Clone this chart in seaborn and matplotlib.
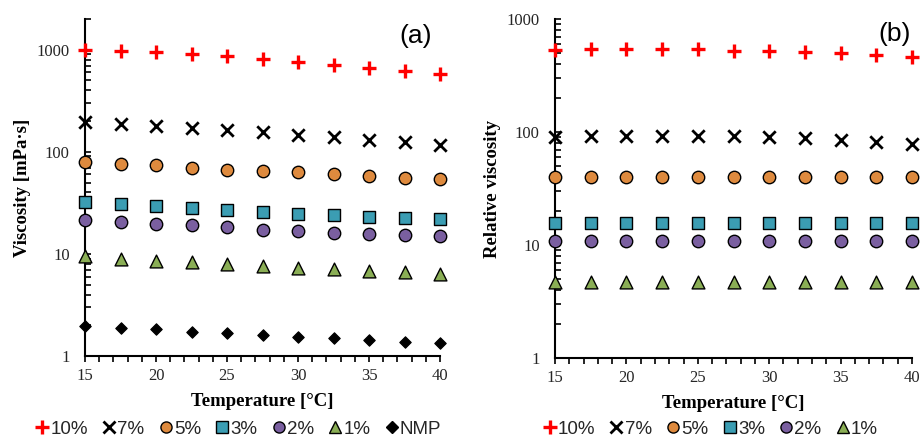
import numpy as np
import pandas as pd
import matplotlib
matplotlib.use("Agg")
import matplotlib.pyplot as plt
from matplotlib.lines import Line2D
from matplotlib.ticker import LogLocator, MultipleLocator, FixedLocator, NullFormatter, FuncFormatter
import seaborn as sns

# ---------------- data ----------------
temperature = [15, 17.5, 20, 22.5, 25, 27.5, 30, 32.5, 35, 37.5, 40]

series_a = ["10%", "7%", "5%", "3%", "2%", "1%", "NMP"]
visc_10 = [1000, 980, 945, 910, 860, 815, 750, 705, 660, 620, 580]
visc_7 = [195, 188, 178, 172, 164, 155, 147, 139, 131, 124, 117]
visc_5 = [79, 76, 74, 69, 67, 65, 63, 60, 58, 56, 54]
visc_3 = [32, 30.6, 29.3, 28.2, 26.7, 25.7, 24.8, 23.9, 23.0, 22.6, 21.8]
visc_2 = [21.5, 20.5, 19.5, 19.1, 18.4, 17.3, 16.8, 16.2, 15.6, 15.2, 14.9]
visc_1 = [9.6, 9.0, 8.6, 8.3, 7.95, 7.65, 7.3, 7.05, 6.8, 6.6, 6.35]
visc_nmp = [1.96, 1.89, 1.82, 1.72, 1.67, 1.60, 1.55, 1.49, 1.43, 1.38, 1.33]

series_b = ["10%", "7%", "5%", "3%", "2%", "1%"]
rel_10 = [532, 540, 540, 540, 540, 524, 521, 513, 497, 480, 458]
rel_7 = [91, 92, 92, 92, 92, 92, 91, 89, 85, 82, 79]
rel_5 = [40, 40, 40, 40, 40, 40, 40, 40, 40, 40, 40]
rel_3 = [15.8, 15.8, 15.8, 15.8, 15.8, 15.8, 15.8, 15.8, 15.8, 15.8, 15.8]
rel_2 = [10.9, 10.9, 10.9, 10.9, 10.9, 10.9, 10.9, 10.9, 10.9, 10.9, 10.9]
rel_1 = [4.75, 4.75, 4.75, 4.75, 4.75, 4.75, 4.75, 4.75, 4.75, 4.75, 4.75]

x_ticks = [15, 20, 25, 30, 35, 40]
y_ticks = [1, 10, 100, 1000]

# ---------------- styles ----------------
styles = {
    "10%": dict(marker="+", color="#FF0000", s=105, lw=2.4, filled=False, leg_ms=10),
    "7%": dict(marker="x", color="#000000", s=80, lw=2.0, filled=False, leg_ms=8.5),
    "5%": dict(marker="o", color="#DE8A3E", s=80, lw=1.0, filled=True, leg_ms=8),
    "3%": dict(marker="s", color="#3B9DB3", s=72, lw=1.0, filled=True, leg_ms=8),
    "2%": dict(marker="o", color="#7A5FA0", s=80, lw=1.0, filled=True, leg_ms=8),
    "1%": dict(marker="^", color="#8AAE55", s=85, lw=1.0, filled=True, leg_ms=8.5),
    "NMP": dict(marker="D", color="#000000", s=34, lw=0.8, filled=True, leg_ms=6),
}

sns.set_theme(style="white")
plt.rcParams["font.family"] = ["Liberation Serif", "DejaVu Serif"]

fig = plt.figure(figsize=(9.21, 4.41), dpi=100)
ax_a = fig.add_axes([85 / 921, 85 / 441, 355 / 921, 337 / 441])
ax_b = fig.add_axes([555 / 921, 83 / 441, 357 / 921, 339 / 441])

TEXT = "#262626"


def draw(ax, names, values):
    for name, vals in zip(names, values):
        st = styles[name]
        df = pd.DataFrame({"T": temperature, "v": vals})
        if st["filled"]:
            sns.scatterplot(data=df, x="T", y="v", ax=ax, marker=st["marker"],
                            color=st["color"], s=st["s"], edgecolor="black",
                            linewidth=st["lw"], zorder=3, legend=False, clip_on=False)
        else:
            sns.scatterplot(data=df, x="T", y="v", ax=ax, marker=st["marker"],
                            color=st["color"], s=st["s"], linewidth=st["lw"],
                            zorder=3, legend=False, clip_on=False)


def style_axes(ax, ytop, ylabel):
    ax.set_yscale("log")
    ax.set_xlim(15, 40)
    ax.set_ylim(1, ytop)
    ax.xaxis.set_major_locator(FixedLocator(x_ticks))
    ax.xaxis.set_minor_locator(MultipleLocator(1))
    ax.yaxis.set_major_locator(FixedLocator(y_ticks))
    ax.yaxis.set_major_formatter(FuncFormatter(lambda v, p: f"{int(round(v))}"))
    ax.yaxis.set_minor_locator(LogLocator(base=10, subs=np.arange(2, 10)))
    ax.yaxis.set_minor_formatter(NullFormatter())
    for sp in ["top", "right"]:
        ax.spines[sp].set_visible(False)
    for sp in ["left", "bottom"]:
        ax.spines[sp].set_color("black")
        ax.spines[sp].set_linewidth(1.5)
    ax.tick_params(axis="x", which="both", direction="out", length=4, width=1.2,
                   colors="black", labelcolor=TEXT, labelsize=12, pad=5, bottom=True)
    ax.tick_params(axis="y", which="both", direction="in", length=4, width=1.2,
                   colors="black", labelcolor=TEXT, labelsize=12, pad=11, left=True)
    ax.set_xlabel("Temperature [°C]", fontsize=13.5, fontweight="bold", color="black", labelpad=6)
    ax.set_ylabel(ylabel, fontsize=13.5, fontweight="bold", color="black", labelpad=4)
    ax.grid(False)


draw(ax_a, series_a, [visc_10, visc_7, visc_5, visc_3, visc_2, visc_1, visc_nmp])
draw(ax_b, series_b, [rel_10, rel_7, rel_5, rel_3, rel_2, rel_1])
style_axes(ax_a, 2000, "Viscosity [mPa·s]")
style_axes(ax_b, 1000, "Relative viscosity")

ax_a.text(0.93, 0.95, "(a)", transform=ax_a.transAxes, ha="center", va="center",
          fontsize=19, family="Liberation Sans", color="black")
ax_b.text(0.95, 0.955, "(b)", transform=ax_b.transAxes, ha="center", va="center",
          fontsize=19, family="Liberation Sans", color="black")


def handles(names):
    hs = []
    for n in names:
        st = styles[n]
        if st["filled"]:
            h = Line2D([], [], linestyle="", marker=st["marker"], markersize=st["leg_ms"],
                       markerfacecolor=st["color"], markeredgecolor="black",
                       markeredgewidth=1.0, label=n)
        else:
            h = Line2D([], [], linestyle="", marker=st["marker"], markersize=st["leg_ms"],
                       color=st["color"], markeredgewidth=st["lw"], label=n)
        hs.append(h)
    return hs


leg_kw = dict(loc="center", ncol=7, frameon=False, handlelength=0.8, handletextpad=0.05,
              columnspacing=0.72, borderaxespad=0,
              prop={"family": "Liberation Sans", "size": 13.5})
la = fig.legend(handles=handles(series_a), bbox_to_anchor=(238 / 921, 12 / 441), **leg_kw)
lb = fig.legend(handles=handles(series_b), bbox_to_anchor=(710 / 921, 12 / 441), **leg_kw)
for lg in (la, lb):
    for t in lg.get_texts():
        t.set_color(TEXT)

fig.savefig("out.png", dpi=100)
